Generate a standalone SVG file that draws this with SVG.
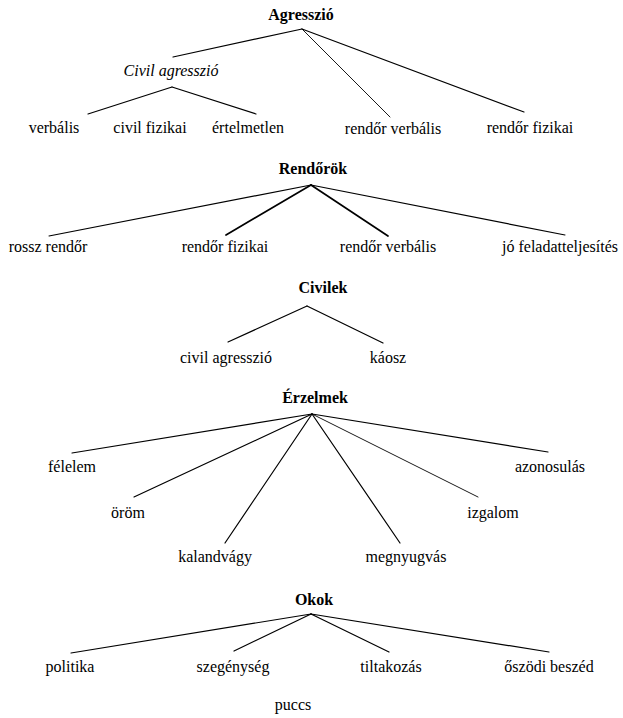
<svg xmlns="http://www.w3.org/2000/svg" width="623" height="718" viewBox="0 0 623 718">
<style>
text{font-size:16px;fill:#000;text-anchor:middle}
.b{font-weight:bold}
.i{font-style:italic}
line{stroke:#000;stroke-width:1.2;stroke-linecap:round}
.t{stroke-width:0.9}
.k{stroke-width:1.7}
</style>
<rect width="623" height="718" fill="#fff"/>
<g id="connectors">
<line x1="302" y1="29" x2="173" y2="57"/>
<line x1="302" y1="29" x2="390" y2="117" class="t"/>
<line x1="302" y1="29" x2="524" y2="112"/>
<line x1="172" y1="87" x2="88" y2="114"/>
<line x1="172" y1="87" x2="256" y2="114"/>
<line x1="311" y1="185" x2="49" y2="236"/>
<line x1="311" y1="185" x2="226" y2="235" class="k"/>
<line x1="311" y1="185" x2="388" y2="236" class="k"/>
<line x1="311" y1="185" x2="565" y2="235"/>
<line x1="307" y1="306" x2="228" y2="342"/>
<line x1="307" y1="306" x2="383" y2="343"/>
<line x1="312" y1="414" x2="72" y2="453"/>
<line x1="312" y1="414" x2="134" y2="497"/>
<line x1="312" y1="414" x2="225" y2="543"/>
<line x1="312" y1="414" x2="400" y2="543"/>
<line x1="312" y1="414" x2="478" y2="497" class="t"/>
<line x1="312" y1="414" x2="548" y2="452"/>
<line x1="311" y1="614" x2="71" y2="653"/>
<line x1="311" y1="614" x2="234" y2="651"/>
<line x1="311" y1="614" x2="389" y2="652"/>
<line x1="311" y1="614" x2="549" y2="652"/>
</g>
<g font-family="'Liberation Serif', serif">
<g id="agresszio"><text x="301" y="20" class="b">Agresszió</text></g>
<g id="civil-agresszio-i"><text x="171" y="76" class="i">Civil agresszió</text></g>
<g id="verbalis"><text x="54" y="133">verbális</text></g>
<g id="civil-fizikai"><text x="150" y="133">civil fizikai</text></g>
<g id="ertelmetlen"><text x="248" y="133">értelmetlen</text></g>
<g id="rendor-verbalis-1"><text x="393" y="134">rendőr verbális</text></g>
<g id="rendor-fizikai-1"><text x="530" y="133">rendőr fizikai</text></g>
<g id="rendorok"><text x="313" y="174" class="b">Rendőrök</text></g>
<g id="rossz-rendor"><text x="48" y="252">rossz rendőr</text></g>
<g id="rendor-fizikai-2"><text x="225" y="252">rendőr fizikai</text></g>
<g id="rendor-verbalis-2"><text x="388" y="252">rendőr verbális</text></g>
<g id="jo-feladat"><text x="560" y="252">jó feladatteljesítés</text></g>
<g id="civilek"><text x="323" y="293" class="b">Civilek</text></g>
<g id="civil-agresszio"><text x="226" y="363">civil agresszió</text></g>
<g id="kaosz"><text x="388" y="363">káosz</text></g>
<g id="erzelmek"><text x="315" y="403" class="b">Érzelmek</text></g>
<g id="felelem"><text x="72" y="472">félelem</text></g>
<g id="azonosulas"><text x="550" y="472">azonosulás</text></g>
<g id="orom"><text x="128" y="518">öröm</text></g>
<g id="izgalom"><text x="493" y="518">izgalom</text></g>
<g id="kalandvagy"><text x="215" y="562">kalandvágy</text></g>
<g id="megnyugvas"><text x="406" y="562">megnyugvás</text></g>
<g id="okok"><text x="314" y="605" class="b">Okok</text></g>
<g id="politika"><text x="70" y="672">politika</text></g>
<g id="szegenyseg"><text x="233" y="672">szegénység</text></g>
<g id="tiltakozas"><text x="391" y="672">tiltakozás</text></g>
<g id="oszodi"><text x="549" y="672">őszödi beszéd</text></g>
<g id="puccs"><text x="293" y="710">puccs</text></g>
</g>
</svg>
